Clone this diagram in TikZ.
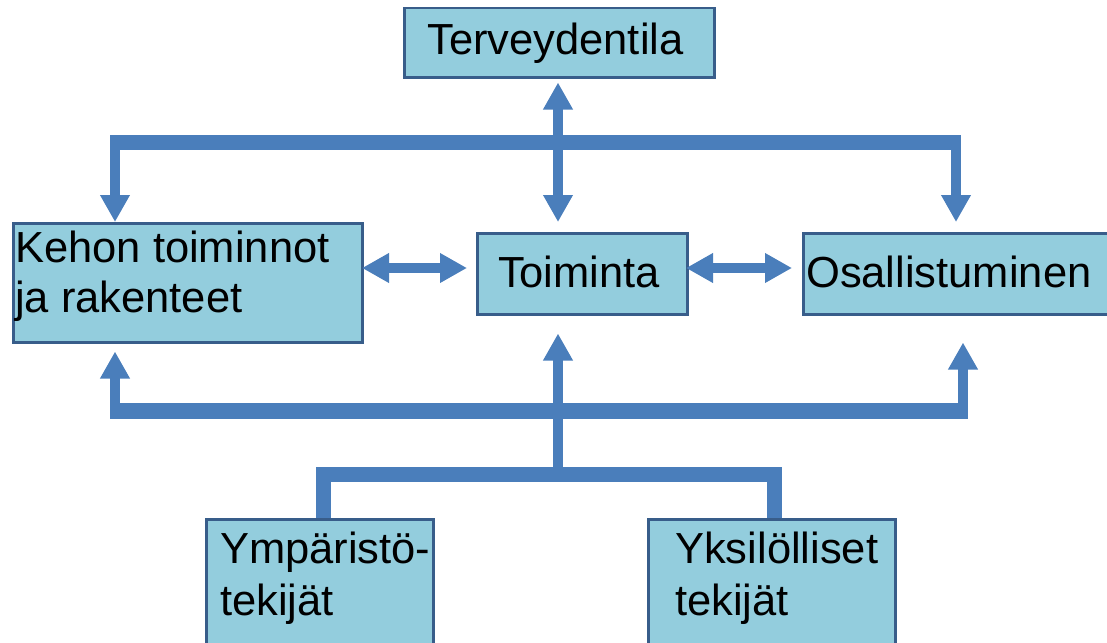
\documentclass[tikz,border=0pt]{standalone}
\usepackage{fontspec}
\setmainfont{Liberation Sans}
\usetikzlibrary{arrows.meta}
\definecolor{boxfill}{RGB}{147,205,221}
\definecolor{boxline}{RGB}{56,93,138}
\definecolor{arrowc}{RGB}{74,126,187}
\begin{document}
\begin{tikzpicture}[x=1pt,y=-1pt,
  box/.style={draw=boxline, fill=boxfill, line width=2.5pt, rectangle, inner sep=0pt, anchor=north west},
  lbl/.style={inner sep=0pt, font=\fontsize{43.5}{50}\selectfont, anchor=base west},
  twoway/.style={draw=arrowc, line width=10pt, {Triangle[width=28pt,length=27pt]}-{Triangle[width=28pt,length=27pt]}},
  oneway/.style={draw=arrowc, line width=10pt, -{Triangle[width=28pt,length=27pt]}},
  bar/.style={draw=arrowc, line width=15pt, line join=miter},
]
\useasboundingbox (0,0) rectangle (1107,642);

% boxes
\node[box, minimum width=310, minimum height=69] (terv) at (403,7) {};
\node[box, minimum width=349, minimum height=119] (kehon) at (12,222) {};
\node[box, minimum width=210, minimum height=81] (toim) at (476,232) {};
\node[box, minimum width=310, minimum height=81] (osal) at (802,232) {};
\node[box, minimum width=227, minimum height=140] (ymp) at (205,518) {};
\node[box, minimum width=247, minimum height=140] (yks) at (647,518) {};

% texts
\node[lbl] (tervT) at (427,55) {Terveydentila};
\node[lbl] (kehonA) at (15,262) {Kehon toiminnot};
\node[lbl] (kehonB) at (15,312) {ja rakenteet};
\node[lbl, anchor=base] (toimT) at (579,287) {Toiminta};
\node[lbl] (osalT) at (806,287) {Osallistuminen};
\node[lbl] (ympA) at (220,563) {Ympäristö-};
\node[lbl] (ympB) at (220,615) {tekijät};
\node[lbl] (yksA) at (675,563) {Yksilölliset};
\node[lbl] (yksB) at (675,615) {tekijät};

% coordinates
\coordinate (cx) at (558,142.5);
\coordinate (tl) at (115,135);
\coordinate (tr) at (956,135);
\coordinate (bl) at (115,403);
\coordinate (br) at (963,403);
\coordinate (bc) at (558,467);
\coordinate (kA) at (362,268);
\coordinate (tA) at (467,268);
\coordinate (tB) at (686,268);
\coordinate (oB) at (792,268);
\coordinate (yl) at (323.5,474);
\coordinate (yr) at (774.5,474);

% top bracket
\draw[bar] (110,142.5) -- (961,142.5);
\draw[twoway, shorten <=4pt, shorten >=10pt] (terv.south -| cx) -- (toim.north -| cx);
\draw[oneway] (tl) -- (tl |- kehon.north);
\draw[oneway, shorten >=10pt] (tr) -- (tr |- osal.north);

% side arrows
\draw[twoway] (kA) -- (tA);
\draw[twoway] (tB) -- (oB);

% bottom bracket
\draw[bar, line width=16pt] (110,411) -- (968,411);
\draw[oneway, shorten >=8pt] (bl) -- (bl |- kehon.south);
\draw[oneway, shorten >=27pt] (br) -- (br |- osal.south);
\draw[oneway, shorten >=18pt] (bc) -- (bc |- toim.south);

% lower tree
\draw[bar] (yl |- ymp.north) -- (yl) -- (yr) -- (yr |- yks.north);
\end{tikzpicture}
\end{document}
